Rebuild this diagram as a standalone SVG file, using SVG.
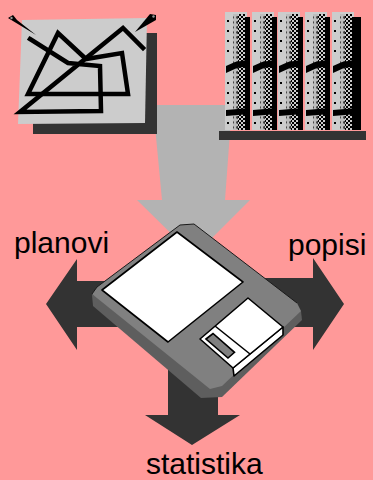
<svg xmlns="http://www.w3.org/2000/svg" width="373" height="480" viewBox="0 0 373 480">
  <style>
    .lbl { font-family: "Liberation Sans", Arial, sans-serif; font-size: 30px; fill: #000; }
    .ink { fill: none; stroke: #000; stroke-width: 4.5; stroke-linejoin: miter; stroke-linecap: square; }
    .dark { fill: #333333; }
    .edge { fill: #fff; stroke: #000; stroke-width: 1.6; stroke-linejoin: round; }
  </style>
  <defs>
    <pattern id="checker" patternUnits="userSpaceOnUse" width="4" height="4">
      <rect width="4" height="4" fill="#cccccc"/>
      <rect width="2" height="2" fill="#000"/>
      <rect x="2" y="2" width="2" height="2" fill="#000"/>
    </pattern>
    <pattern id="fuzz" patternUnits="userSpaceOnUse" width="5" height="5">
      <rect width="5" height="5" fill="#bdbdbd"/>
      <circle cx="2.5" cy="2.5" r="1.4" fill="#3a3a3a"/>
    </pattern>
    <!-- one book spine, left edge at x=0 -->
    <g id="book">
      <rect x="0" y="12" width="22" height="118" fill="#cccccc"/>
      <rect x="8" y="14" width="5" height="116" fill="url(#fuzz)"/>
      <rect x="13" y="14" width="7" height="116" fill="url(#checker)"/>
      <rect x="20" y="17" width="5" height="113" fill="#000"/>
      <g fill="#000">
        <rect x="2" y="20" width="2" height="2"/>
        <rect x="2" y="30" width="2" height="2"/>
        <rect x="2" y="40" width="2" height="2"/>
        <rect x="2" y="50" width="2" height="2"/>
        <rect x="2" y="82" width="2" height="2"/>
        <rect x="2" y="92" width="2" height="2"/>
        <rect x="2" y="102" width="2" height="2"/>
        <rect x="2" y="122" width="2" height="2"/>
        <polygon points="1,66 10,62 22,60 25,60 25,66 12,68 1,73"/>
        <polygon points="1,110 25,108 25,114 1,116"/>
      </g>
    </g>
  </defs>

  <rect width="373" height="480" fill="#ff9999"/>

  <g id="connectors">
    <!-- wide grey arrow feeding the disk -->
    <polygon id="arrow-in" points="153,105 232,105 225,200 250,200 194,256 137,200 162,200" fill="#b3b3b3"/>
    <!-- three dark arrows leaving the disk -->
    <polygon id="arrow-left" class="dark" points="195,281 77,281 77,259 46,304 77,350 77,327 195,327"/>
    <polygon id="arrow-right" class="dark" points="195,278 313,278 313,258 344,304 313,350 313,327 195,327"/>
    <polygon id="arrow-down" class="dark" points="168,300 218,300 218,415 240,415 192,445 145,415 168,415"/>
  </g>

  <g id="plans">
    <polygon points="33,33 157,33 157,134 33,134" fill="#333333"/>
    <polygon points="22,20 147,18 145,123 18,124" fill="#cccccc"/>
    <polyline class="ink" points="30,39 68,63 100,66 101,111 20,112 123,28 143,48"/>
    <polygon class="ink" points="28,94 58,33 86,59 122,53 128,94"/>
    <polygon points="8,18 13,15 17,20 36,35" fill="#000"/>
    <circle cx="11.5" cy="18" r="1.2" fill="#999"/>
    <polygon points="150,14 156,15 156,20 135,32" fill="#000"/>
    <circle cx="153.5" cy="16.5" r="1.2" fill="#999"/>
  </g>

  <g id="books">
    <use href="#book" transform="translate(225,0)"/>
    <use href="#book" transform="translate(252,0)"/>
    <use href="#book" transform="translate(278,0)"/>
    <use href="#book" transform="translate(305,0)"/>
    <use href="#book" transform="translate(332,0)"/>
    <rect x="356" y="17" width="5" height="113" fill="#000"/>
    <rect x="219" y="131" width="147" height="9" fill="#333333"/>
  </g>

  <g id="disk">
    <!-- side thickness -->
    <polygon points="92,295 93,306 201,398 222,397 302,320 301,311" fill="#5e5e5e"/>
    <!-- top face -->
    <polygon points="92,294 97,287 180,225 194,224 297,303 301,311 222,386 210,389" fill="#808080"/>
    <polyline points="92,294 97,287 180,225 194,224 297,303" fill="none" stroke="#1a1a1a" stroke-width="1"/>
    <!-- label -->
    <polygon class="edge" points="177,232 243,282 168,342 102,290"/>
    <!-- shutter -->
    <polygon class="edge" points="233,368 283,327 283,335 234,376"/>
    <polygon class="edge" points="200,339 248,298 283,327 233,368"/>
    <line x1="215" y1="326" x2="250" y2="354" stroke="#000" stroke-width="1.6"/>
    <polygon points="206,339 213,333.5 234.5,352.3 228,358" fill="#808080" stroke="#000" stroke-width="1.6"/>
  </g>

  <g id="labels">
    <text class="lbl" x="14" y="253">planovi</text>
    <text class="lbl" x="288" y="255">popisi</text>
    <text class="lbl" x="146" y="474">statistika</text>
  </g>
</svg>
